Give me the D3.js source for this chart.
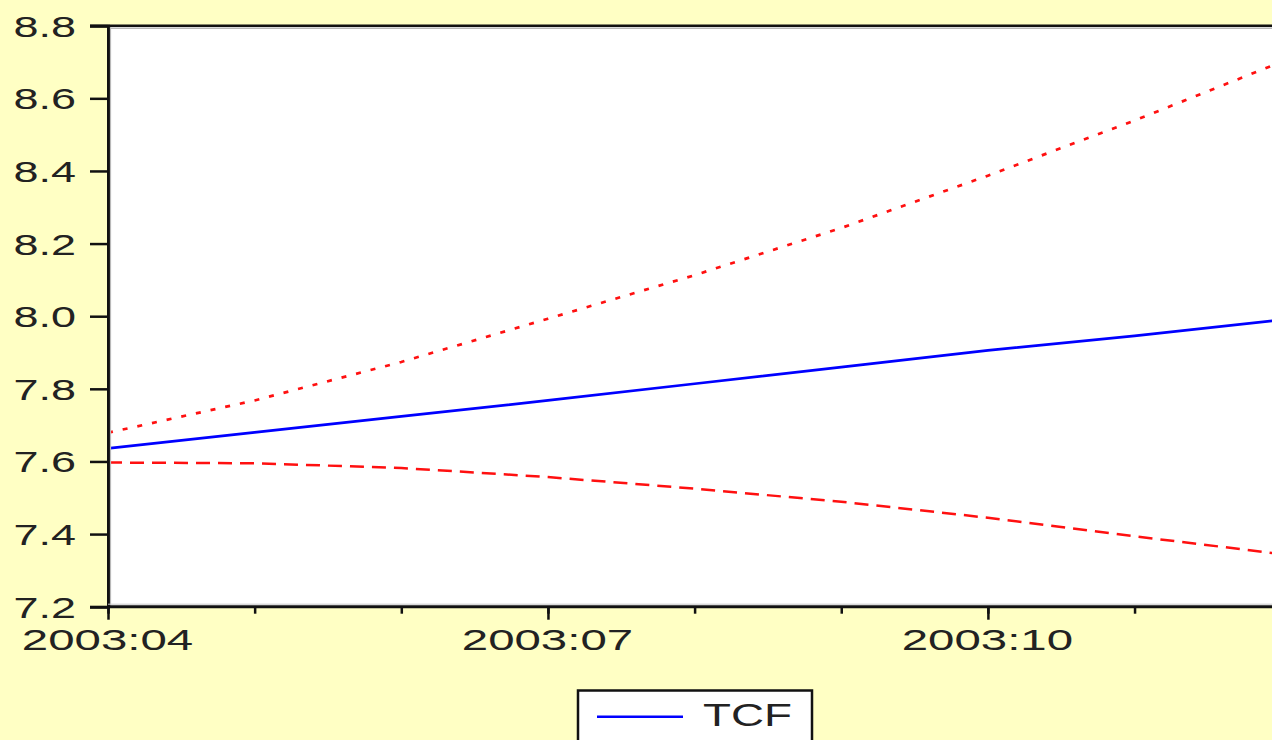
<!DOCTYPE html>
<html>
<head>
<meta charset="utf-8">
<script src="https://cdn.jsdelivr.net/npm/d3@7"></script>
<style>
  html, body { margin: 0; padding: 0; background: #FFFFC4; overflow: hidden; }
  svg { display: block; }
</style>
</head>
<body>
<div id="chart"></div>
<script>
// ---- Data ----
const months = ["2003:04","2003:05","2003:06","2003:07","2003:08","2003:09","2003:10","2003:11","2003:12"];
const majorLabels = ["2003:04","2003:07","2003:10"];
const tcf   = [7.636, 7.680, 7.724, 7.768, 7.814, 7.860, 7.906, 7.946, 7.990];
const upper = [7.679, 7.768, 7.874, 7.993, 8.113, 8.243, 8.387, 8.539, 8.700];
const lower = [7.597, 7.595, 7.582, 7.557, 7.525, 7.489, 7.445, 7.394, 7.345];
const yTicks = [7.2, 7.4, 7.6, 7.8, 8.0, 8.2, 8.4, 8.6, 8.8];
const seriesName = "TCF";

const W = 1272, H = 740;
const plotLeft = 108, plotTop = 25.7, plotBottom = 606.7;
const monthStep = 146.65;

const svg = d3.select("#chart").append("svg")
  .attr("width", W).attr("height", H)
  .style("font-family", "'Liberation Sans', Arial, sans-serif");

svg.append("rect").attr("width", W).attr("height", H).attr("fill", "#FFFFC4");

const x = d3.scaleLinear().domain([0, months.length - 1])
  .range([plotLeft, plotLeft + monthStep * (months.length - 1)]);
const y = d3.scaleLinear().domain([7.2, 8.8]).range([plotBottom, plotTop]);

// plot background
svg.append("rect")
  .attr("x", plotLeft).attr("y", plotTop)
  .attr("width", W - plotLeft + 20).attr("height", plotBottom - plotTop)
  .attr("fill", "#ffffff");

// top frame grey shadow
svg.append("line").attr("x1", plotLeft).attr("x2", W + 5)
  .attr("y1", plotTop + 2.5).attr("y2", plotTop + 2.5)
  .attr("stroke", "#b8b8b8").attr("stroke-width", 1.5);

svg.append("defs").append("clipPath").attr("id", "plotclip")
  .append("rect").attr("x", plotLeft).attr("y", plotTop)
  .attr("width", W - plotLeft + 20).attr("height", plotBottom - plotTop);

const lineGen = d3.line().x((d, i) => x(i)).y(d => y(d));

const g = svg.append("g").attr("clip-path", "url(#plotclip)");

g.append("path").datum(lower)
  .attr("d", lineGen).attr("fill", "none")
  .attr("stroke", "#ff1010").attr("stroke-width", 2.5)
  .attr("stroke-dasharray", "14,8");

g.append("path").datum(upper)
  .attr("d", lineGen).attr("fill", "none")
  .attr("stroke", "#ff1010").attr("stroke-width", 2.7)
  .attr("stroke-dasharray", "5,10");

g.append("path").datum(tcf)
  .attr("d", lineGen).attr("fill", "none")
  .attr("stroke", "#0000ff").attr("stroke-width", 2.7);

// Y axis
const yAxis = svg.append("g").attr("transform", `translate(${plotLeft},0)`)
  .call(d3.axisLeft(y).tickValues(yTicks).tickSize(18).tickFormat(d3.format(".1f")));
yAxis.select(".domain").attr("stroke", "#111").attr("stroke-width", 3);
yAxis.selectAll(".tick line").attr("stroke", "#111").attr("stroke-width", 2.5);
yAxis.selectAll(".tick text")
  .attr("x", null).attr("dy", null)
  .attr("transform", "translate(-32,10.5) scale(1.55,1)")
  .attr("text-anchor", "end")
  .attr("fill", "#222")
  .style("font-size", "29px");

// grey shadow to the right of left axis
svg.append("line").attr("x1", plotLeft + 2.5).attr("x2", plotLeft + 2.5)
  .attr("y1", plotTop).attr("y2", plotBottom)
  .attr("stroke", "#b8b8b8").attr("stroke-width", 1.2);

// top frame line
svg.append("line").attr("x1", plotLeft - 18).attr("x2", W + 5)
  .attr("y1", plotTop).attr("y2", plotTop)
  .attr("stroke", "#111").attr("stroke-width", 2.5);

// X axis minor ticks
const xMinor = svg.append("g").attr("transform", `translate(0,${plotBottom})`)
  .call(d3.axisBottom(x).tickValues(d3.range(months.length)).tickSize(7).tickFormat(""));
xMinor.select(".domain").attr("stroke", "#111").attr("stroke-width", 3).attr("d", `M${plotLeft},0H${W + 5}`);
xMinor.selectAll(".tick line").attr("stroke", "#111").attr("stroke-width", 2.5);

// X axis major ticks with labels
const majorIdx = majorLabels.map(l => months.indexOf(l));
const xMajor = svg.append("g").attr("transform", `translate(0,${plotBottom})`)
  .call(d3.axisBottom(x).tickValues(majorIdx).tickSize(13).tickFormat(i => months[i]));
xMajor.select(".domain").remove();
xMajor.selectAll(".tick line").attr("stroke", "#111").attr("stroke-width", 2.5);
xMajor.selectAll(".tick text")
  .attr("y", null).attr("dy", null)
  .attr("transform", "translate(-1,43.3) scale(1.58,1)")
  .attr("text-anchor", "middle")
  .attr("fill", "#222")
  .style("font-size", "30px");

// grey shadow above bottom axis
svg.append("line").attr("x1", plotLeft).attr("x2", W + 5)
  .attr("y1", plotBottom - 2.5).attr("y2", plotBottom - 2.5)
  .attr("stroke", "#c8c8c8").attr("stroke-width", 1);

// Legend
const lg = svg.append("g");
lg.append("rect").attr("x", 578).attr("y", 690.5).attr("width", 234).attr("height", 70)
  .attr("fill", "#ffffff").attr("stroke", "#111").attr("stroke-width", 2.5);
lg.append("line").attr("x1", 597).attr("x2", 683).attr("y1", 716.7).attr("y2", 716.7)
  .attr("stroke", "#0000ff").attr("stroke-width", 2.4);
lg.append("text").attr("transform", "translate(703,725.5) scale(1.5,1)")
  .attr("fill", "#222").style("font-size", "30.5px").text(seriesName);
</script>
</body>
</html>
